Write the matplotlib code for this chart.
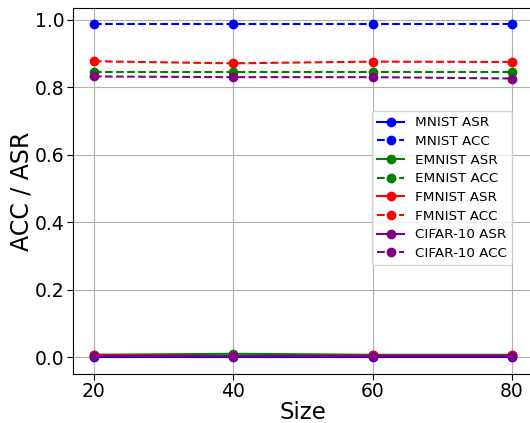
import matplotlib
matplotlib.use('Agg')
import matplotlib.pyplot as plt

sizes = [20, 40, 60, 80]

mnist_asr = [0.001, 0.001, 0.001, 0.001]
mnist_acc = [0.989, 0.989, 0.989, 0.989]
emnist_asr = [0.007, 0.010, 0.007, 0.007]
emnist_acc = [0.844, 0.844, 0.844, 0.844]
fmnist_asr = [0.007, 0.003, 0.005, 0.005]
fmnist_acc = [0.877, 0.871, 0.876, 0.875]
cifar_asr = [0.004, 0.004, 0.004, 0.004]
cifar_acc = [0.832, 0.830, 0.830, 0.826]

series = [
    ('MNIST', 'blue', mnist_asr, mnist_acc),
    ('EMNIST', 'green', emnist_asr, emnist_acc),
    ('FMNIST', 'red', fmnist_asr, fmnist_acc),
    ('CIFAR-10', 'purple', cifar_asr, cifar_acc),
]

fig = plt.figure(figsize=(5.3, 4.23), dpi=100)
ax = fig.add_axes([73 / 530, 49 / 423, 460 / 530, 366 / 423])

for name, color, asr, acc in series:
    ax.plot(sizes, asr, '-o', color=color, label=name + ' ASR')
    ax.plot(sizes, acc, '--o', color=color, label=name + ' ACC')

ax.set_xlim(17, 83)
ax.set_ylim(-0.05, 1.035)
ax.set_xticks(sizes)
ax.set_xlabel('Size', fontsize=16.5, labelpad=0)
ax.set_ylabel('ACC / ASR', fontsize=17, labelpad=1)
ax.tick_params(labelsize=13.5, length=4, pad=2)
ax.grid(True)
ax.legend(loc='upper left', bbox_to_anchor=(372 / 530, 1 - 111 / 423),
          bbox_transform=fig.transFigure, fontsize=9.7, labelspacing=0.42,
          borderaxespad=0)

fig.savefig('out.png', dpi=100)
